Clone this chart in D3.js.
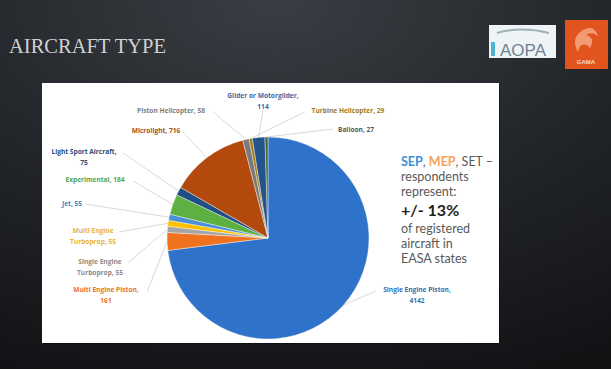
<!DOCTYPE html>
<html>
<head>
<meta charset="utf-8">
<script src="https://cdn.jsdelivr.net/npm/d3@7"></script>
<style>
html,body{margin:0;padding:0;background:#1b1d20;}
svg{display:block;}
</style>
</head>
<body>
<svg id="chart" width="611" height="369"></svg>
<script>
/* Data */
const categories=["Single Engine Piston","Multi Engine Piston","Single Engine Turboprop","Multi Engine Turboprop","Jet","Experimental","Light Sport Aircraft","Microlight","Piston Helicopter","Turbine Helicopter","Glider or Motorglider","Balloon"];
const counts=[4142,161,55,55,55,184,75,716,58,29,114,27];
const sliceColors=["#2e73c9","#f0721f","#a5a5a5","#ffc000","#4a8fd8","#5fb043","#1f4f86","#b3490c","#7a7a7a","#a37b12","#25538c","#3f6a33"];
const labelColors=["#3a6fb4","#e8742c","#8a8a8a","#e8b53a","#3f83c9","#5aa546","#2a4d7a","#a85221","#7d7d7d","#a07a1c","#3d6aa5","#5a5a5a"];
/* label text lines and anchor (text centre) */
const labelLines=[["Single Engine Piston,","4142"],["Multi Engine Piston,","161"],["Single Engine","Turboprop, 55"],["Multi Engine","Turboprop, 55"],["Jet, 55"],["Experimental, 184"],["Light Sport Aircraft,","75"],["Microlight, 716"],["Piston Helicopter, 58"],["Turbine Helicopter, 29"],["Glider or Motorglider,","114"],["Balloon, 27"]];
const labelAt=[[417,290],[106,290],[100,262],[93,231],[72,204],[95,180],[84,152],[156,131],[171,111],[348,111],[263,96],[356,130]];
/* where leader line leaves the label */
const leaderFrom=[[376,291],[147,292],[128,263],[119,232],[85,204],[133,181],[123,153],[183,132],[213,112],[305,112],[263,110],[333,129]];
const noteLines=["respondents","represent:","+/- 13%","of registered","aircraft in","EASA states"];

const svg=d3.select("#chart");
const defs=svg.append("defs");
const bg=defs.append("radialGradient").attr("id","bg").attr("cx","45%").attr("cy","0%").attr("r","110%");
bg.append("stop").attr("offset","0%").attr("stop-color","#3a3e44");
bg.append("stop").attr("offset","45%").attr("stop-color","#25282c");
bg.append("stop").attr("offset","100%").attr("stop-color","#111214");
svg.append("rect").attr("width",611).attr("height",369).attr("fill","url(#bg)");

/* Title */
svg.append("text").attr("x",9).attr("y",53)
  .attr("font-family","Liberation Serif, serif").attr("font-size",20.5)
  .attr("fill","#cfd1d4").text("AIRCRAFT TYPE");

/* Logos */
const aopa=svg.append("g");
aopa.append("rect").attr("x",489).attr("y",25).attr("width",67).attr("height",33).attr("fill","#eef3f5");
aopa.append("rect").attr("x",491).attr("y",42).attr("width",4).attr("height",14).attr("fill","#4fb3d3");
aopa.append("path").attr("d","M497,33 Q522,26 549,33").attr("stroke","#9fb0b8").attr("stroke-width",2).attr("fill","none");
aopa.append("text").attr("x",523).attr("y",56).attr("text-anchor","middle")
  .attr("font-family","Liberation Sans, sans-serif").attr("font-size",17).attr("fill","#6f8393").text("AOPA");
const gama=svg.append("g");
gama.append("rect").attr("x",565).attr("y",20).attr("width",43).attr("height",49).attr("fill","#e2541d");
gama.append("path").attr("d","M578,52 Q570,38 583,30 Q594,24 598,36 Q592,31 586,35 Q596,38 590,48 Q586,42 580,46 Z").attr("fill","#f29a72");
gama.append("text").attr("x",586).attr("y",64).attr("text-anchor","middle")
  .attr("font-family","Liberation Sans, sans-serif").attr("font-weight","bold").attr("font-size",6).attr("fill","#fbd9c8").text("GAMA");

/* Panel */
svg.append("rect").attr("x",43).attr("y",84).attr("width",457).attr("height",260).attr("fill","#000").attr("opacity",0.35);
svg.append("rect").attr("x",42).attr("y",83).attr("width",457).attr("height",260).attr("fill","#ffffff");

/* Pie */
const cx=268, cy=238, r=101;
const pie=d3.pie().sort(null).value(d=>d)(counts);
const arc=d3.arc().innerRadius(0).outerRadius(r);
const edge=d3.arc().innerRadius(r).outerRadius(r);
const g=svg.append("g").attr("transform",`translate(${cx},${cy})`);
g.selectAll("path").data(pie).enter().append("path")
  .attr("d",arc).attr("fill",(d,i)=>sliceColors[i])
  .attr("stroke","#ffffff").attr("stroke-width",0.4);

/* Leader lines */
svg.append("g").selectAll("line").data(pie).enter().append("line")
  .attr("x1",(d,i)=>leaderFrom[i][0]).attr("y1",(d,i)=>leaderFrom[i][1])
  .attr("x2",d=>cx+edge.centroid(d)[0]).attr("y2",d=>cy+edge.centroid(d)[1])
  .attr("stroke","#c8c8c8").attr("stroke-width",0.7);

/* Labels */
const lab=svg.append("g").attr("font-family","Open Sans, sans-serif").attr("font-size",6.6).attr("font-weight","bold");
categories.forEach((c,i)=>{
  const t=lab.append("text").attr("x",labelAt[i][0]).attr("y",labelAt[i][1]+2.3)
    .attr("text-anchor","middle").attr("fill",labelColors[i]);
  labelLines[i].forEach((s,k)=>t.append("tspan").attr("x",labelAt[i][0]).attr("dy",k?11:0).text(s));
});

/* Note */
const note=svg.append("g").attr("font-family","Lato, sans-serif").attr("fill","#595959");
const first=note.append("text").attr("x",401).attr("y",166).attr("font-size",12.5);
first.append("tspan").attr("fill","#3d8fd1").attr("font-weight","bold").text("SEP");
first.append("tspan").text(", ");
first.append("tspan").attr("fill","#f4a25c").attr("font-weight","bold").text("MEP");
first.append("tspan").text(", SET –");
const ys=[181,196,216,233,248,263];
noteLines.forEach((s,i)=>{
  const big=s.startsWith("+/-");
  note.append("text").attr("x",401).attr("y",ys[i])
    .attr("font-size",big?16:12.5).attr("font-weight",big?"bold":"normal")
    .attr("fill",big?"#1f1f1f":"#595959").text(s);
});
</script>
</body>
</html>
